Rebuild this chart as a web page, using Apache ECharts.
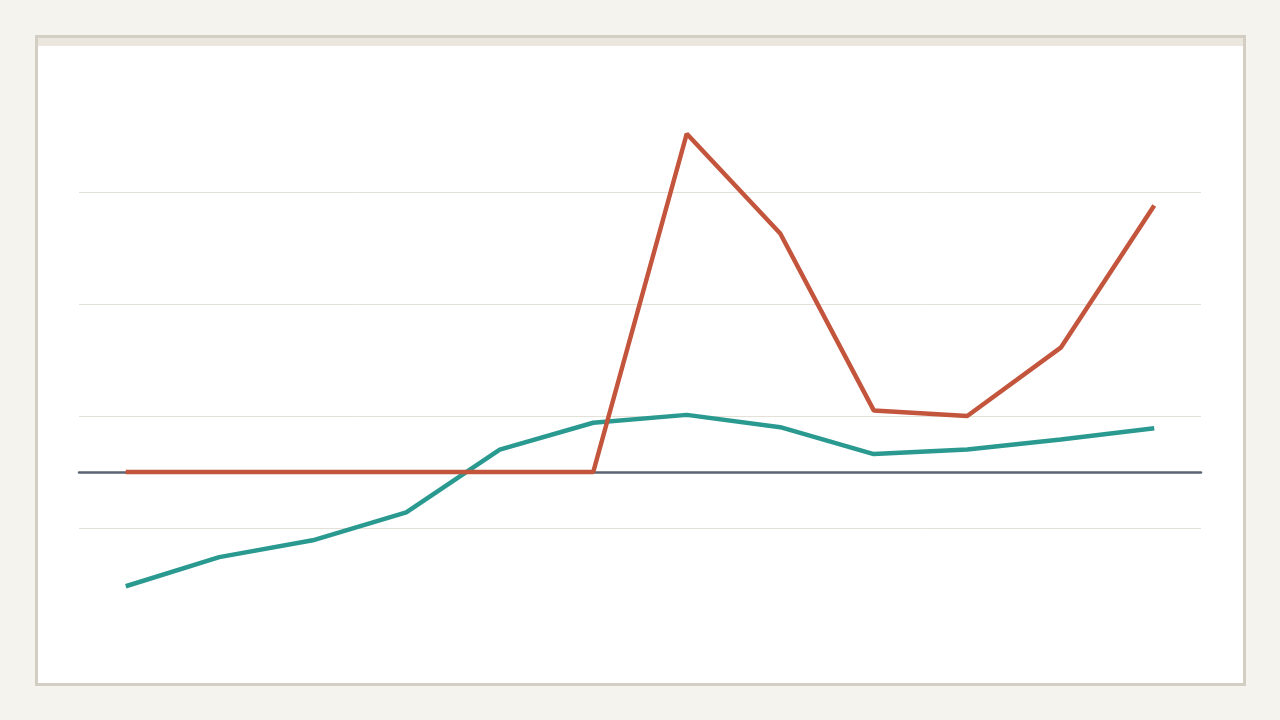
<!DOCTYPE html>
<html>
<head>
<meta charset="utf-8">
<script src="https://cdn.jsdelivr.net/npm/echarts@6/dist/echarts.min.js"></script>
<style>
html, body { margin: 0; padding: 0; background: #f4f3ee; }
#card {
    position: absolute; left: 35px; top: 35px;
    width: 1205px; height: 645px;
    border: 3px solid #d3cec4; background: #ffffff;
}
#band { height: 8px; background: #ebe7de; }
#main { position: absolute; left: 0; top: 0; width: 1280px; height: 720px; }
</style>
</head>
<body>
<div id="card"><div id="band"></div></div>
<div id="main"></div>
<script>
var categories = ['1','2','3','4','5','6','7','8','9','10','11','12'];
var redValues = [0, 0, 0, 0, 0, 0, 30.2, 21.3, 5.5, 5.0, 11.1, 23.8];
var tealValues = [-10.2, -7.6, -6.1, -3.6, 2.0, 4.4, 5.1, 4.0, 1.6, 2.0, 2.9, 3.9];

var myChart = echarts.init(document.getElementById('main'));
var option = {
    animation: false,
    grid: { left: 79, right: 79, top: 80, bottom: 80 },
    xAxis: {
        type: 'category',
        data: categories,
        boundaryGap: true,
        axisLine: { show: true, onZero: true, lineStyle: { color: '#5b6472', width: 2.5 } },
        axisTick: { show: false },
        axisLabel: { show: false }
    },
    yAxis: {
        type: 'value',
        min: -15,
        max: 35,
        interval: 10,
        axisLine: { show: false },
        axisTick: { show: false },
        axisLabel: { show: false },
        splitLine: {
            show: true,
            showMinLine: false,
            showMaxLine: false,
            lineStyle: { color: '#e3e0d5', width: 1 }
        }
    },
    series: [
        {
            name: 'teal',
            type: 'line',
            data: tealValues,
            symbol: 'none',
            lineStyle: { color: '#2a9a90', width: 4.5 }
        },
        {
            name: 'red',
            type: 'line',
            data: redValues,
            symbol: 'none',
            lineStyle: { color: '#c4553d', width: 4.5 }
        }
    ]
};
myChart.setOption(option);
</script>
</body>
</html>
